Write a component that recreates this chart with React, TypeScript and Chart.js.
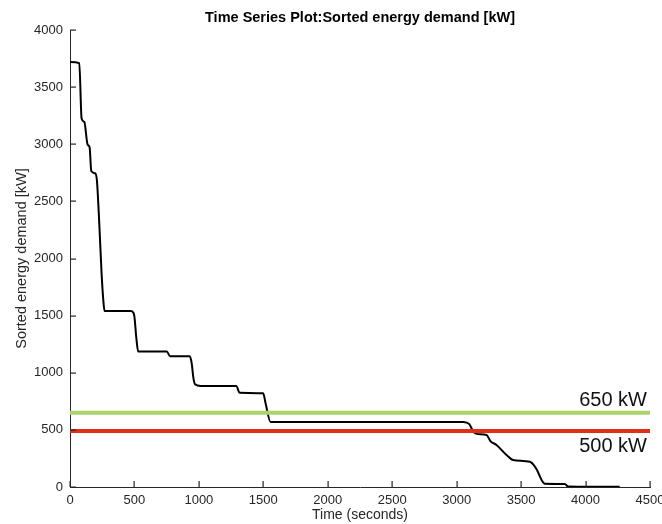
import React, { useEffect, useRef } from "react";
import { Chart, registerables } from "chart.js";

Chart.register(...registerables);

const timeSec = [0, 72, 90, 111, 137, 152, 165, 196, 209, 227, 245, 258, 268, 472, 493, 500, 515, 529, 751, 776, 929, 944, 958, 970, 1014, 1290, 1316, 1499, 1517, 1556, 3052, 3098, 3129, 3155, 3232, 3263, 3309, 3387, 3438, 3568, 3620, 3659, 3684, 3839, 3865, 4265];
const demandKW = [3720, 3710, 3225, 3195, 2995, 2975, 2765, 2745, 2680, 2310, 1870, 1640, 1540, 1540, 1523, 1490, 1300, 1185, 1185, 1145, 1145, 1085, 950, 900, 885, 885, 825, 820, 735, 570, 570, 550, 485, 465, 455, 400, 368, 280, 236, 221, 155, 61, 28, 26, 5, 2];

const refHigh = 650;
const refLow = 490;
const refHighLabel = "650 kW";
const refLowLabel = "500 kW";
const xTicks = [0, 500, 1000, 1500, 2000, 2500, 3000, 3500, 4000, 4500];
const yTicks = [0, 500, 1000, 1500, 2000, 2500, 3000, 3500, 4000];

const titleText = "Time Series Plot:Sorted energy demand [kW]";
const FONT = "'Liberation Sans', Arial, Helvetica, sans-serif";
const AXIS = "#262626";

export default function App() {
  const ref = useRef<HTMLCanvasElement | null>(null);
  useEffect(() => {
    if (!ref.current) return;
    const curve = timeSec.map((t, i) => ({ x: t, y: demandKW[i] }));
    const xMin = xTicks[0];
    const xMax = xTicks[xTicks.length - 1];
    const annot = {
      id: "annot",
      afterDraw(chart: any) {
        const ctx = chart.ctx;
        const ca = chart.chartArea;
        const xs = chart.scales.x;
        const ys = chart.scales.y;
        ctx.save();
        // inward tick marks
        ctx.fillStyle = AXIS;
        xTicks.forEach((v) => {
          const px = Math.round(xs.getPixelForValue(v));
          ctx.fillRect(px - 0.5, ca.bottom - 6, 1.2, 6);
        });
        yTicks.forEach((v) => {
          const py = Math.round(ys.getPixelForValue(v));
          ctx.fillRect(ca.left, py - 0.5, 6, 1.2);
        });
        ctx.fillStyle = "#000";
        ctx.font = `bold 14.5px ${FONT}`;
        ctx.textAlign = "center";
        ctx.textBaseline = "middle";
        ctx.fillText(titleText, (ca.left + ca.right) / 2, 18);
        ctx.font = `20px ${FONT}`;
        ctx.fillStyle = "#111";
        ctx.textAlign = "right";
        ctx.textBaseline = "middle";
        ctx.fillText(refHighLabel, ca.right - 3, ys.getPixelForValue(refHigh) - 12);
        ctx.fillText(refLowLabel, ca.right - 3, ys.getPixelForValue(refLow) + 15);
        ctx.restore();
      },
    };
    const chart = new Chart(ref.current, {
      type: "line",
      data: {
        datasets: [
          {
            data: [{ x: xMin, y: refHigh }, { x: xMax, y: refHigh }],
            borderColor: "#a8d46e",
            borderWidth: 4,
            pointRadius: 0,
            borderCapStyle: "square",
          },
          {
            data: [{ x: xMin, y: refLow }, { x: xMax, y: refLow }],
            borderColor: "#df2f14",
            borderWidth: 4,
            pointRadius: 0,
            borderCapStyle: "square",
          },
          {
            data: curve,
            borderColor: "#000",
            borderWidth: 2,
            pointRadius: 0,
            cubicInterpolationMode: "monotone",
          },
        ],
      },
      options: {
        animation: false,
        responsive: false,
        layout: { padding: { top: 30, right: 12, left: 0, bottom: 0 } },
        plugins: { legend: { display: false }, tooltip: { enabled: false }, title: { display: false } },
        scales: {
          x: {
            type: "linear",
            min: xMin,
            max: xMax,
            afterBuildTicks: (s: any) => { s.ticks = xTicks.map((v) => ({ value: v })); },
            afterFit: (s: any) => { s.height = 37; s.paddingLeft = 0; s.paddingRight = 0; },
            grid: { display: false, drawTicks: false, tickLength: 0 },
            border: { color: AXIS, width: 1 },
            ticks: { color: AXIS, font: { family: FONT, size: 13 }, padding: 6, maxRotation: 0, callback: (v: any) => String(v) },
            title: { display: true, text: "Time (seconds)", color: AXIS, font: { family: FONT, size: 14 }, padding: { top: 0, bottom: 0 } },
          },
          y: {
            type: "linear",
            min: yTicks[0],
            max: yTicks[yTicks.length - 1],
            afterBuildTicks: (s: any) => { s.ticks = yTicks.map((v) => ({ value: v })); },
            afterFit: (s: any) => { s.width = 70; s.paddingTop = 0; s.paddingBottom = 0; },
            grid: { display: false, drawTicks: false, tickLength: 0 },
            border: { color: AXIS, width: 1 },
            ticks: { color: AXIS, font: { family: FONT, size: 13 }, padding: 7, callback: (v: any) => String(v) },
            title: { display: true, text: "Sorted energy demand [kW]", color: AXIS, font: { family: FONT, size: 14.5 }, padding: { top: 13, bottom: 0 } },
          },
        },
      },
      plugins: [annot],
    } as any);
    return () => chart.destroy();
  }, []);
  return (
    <div style={{ position: "absolute", left: 0, top: 0, width: 662, height: 524, background: "#fff" }}>
      <canvas ref={ref} width={662} height={524} />
    </div>
  );
}
